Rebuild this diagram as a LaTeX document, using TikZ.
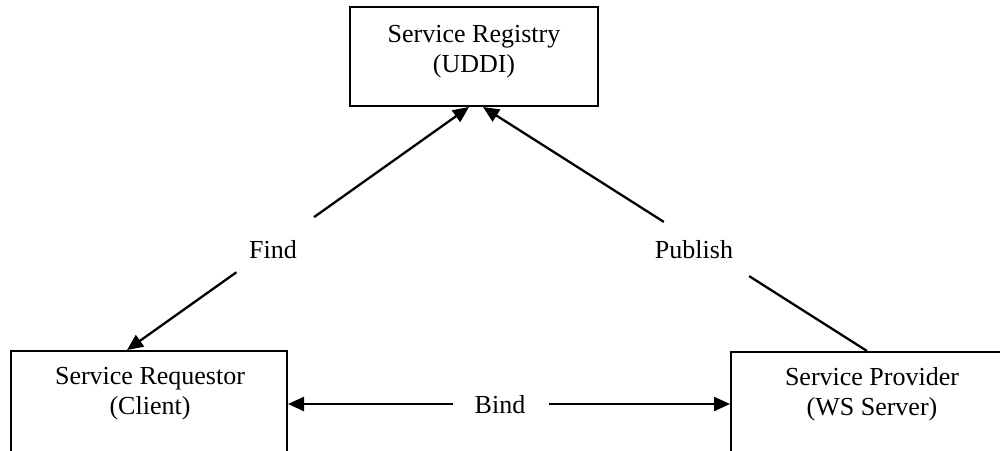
\documentclass[tikz,border=0pt]{standalone}
\usepackage{fontspec}
\setmainfont{Liberation Serif}
\usetikzlibrary{arrows.meta,calc}
\begin{document}
\begin{tikzpicture}[x=1pt,y=-1pt,
  box/.style={draw,line width=2pt,rectangle,inner sep=0pt},
  txt/.style={align=center,font=\fontsize{26}{30}\selectfont,inner sep=0pt},
  conn/.style={line width=2.3pt},
  tip/.style={-{Triangle[length=16pt,width=14pt]}}]
\useasboundingbox (0,0) rectangle (1000,450);
\clip (0,0) rectangle (1000,450);

% boxes
\node[box,minimum width=248pt,minimum height=99pt] (reg) at (474,56.5) {};
\node[box,minimum width=276pt,minimum height=140pt] (req) at (149,421) {};
\node[box,minimum width=282pt,minimum height=140pt] (prov) at (872,422) {};

% box texts
\node[txt] (regtxt) at (474,52) {Service Registry\\(UDDI)};
\node[txt] (reqtxt) at (150,394) {Service Requestor\\(Client)};
\node[txt] (provtxt) at (872,394) {Service Provider\\(WS Server)};

% connector labels
\node[txt] (find) at (273,250) {Find};
\node[txt] (publish) at (694,250) {Publish};
\node[txt] (bind) at (500,405) {Bind};

% connector end points on the boxes
\coordinate (findlow) at ($(req.north west)+(117,0)$);
\coordinate (findtop) at ($(reg.south west)+(120,0)$);
\coordinate (publow) at ($(prov.north west)+(137,0)$);
\coordinate (pubtop) at ($(reg.south west)+(134,0)$);
\coordinate (bindl) at ($(req.north east)+(0,54)$);
\coordinate (bindr) at ($(prov.north west)+(0,53)$);

% Find
\draw[conn,tip] ($(findlow)!0.547!(findtop)$) -- (findtop);
\draw[conn,tip] ($(findlow)!0.32!(findtop)$) -- (findlow);
% Publish
\draw[conn,tip] ($(publow)!0.529!(pubtop)$) -- (pubtop);
\draw[conn] ($(publow)!0.307!(pubtop)$) -- (publow);
% Bind
\draw[conn,tip] (453,0 |- bindl) -- (bindl);
\draw[conn,tip] (549,0 |- bindr) -- (bindr);
\end{tikzpicture}
\end{document}
